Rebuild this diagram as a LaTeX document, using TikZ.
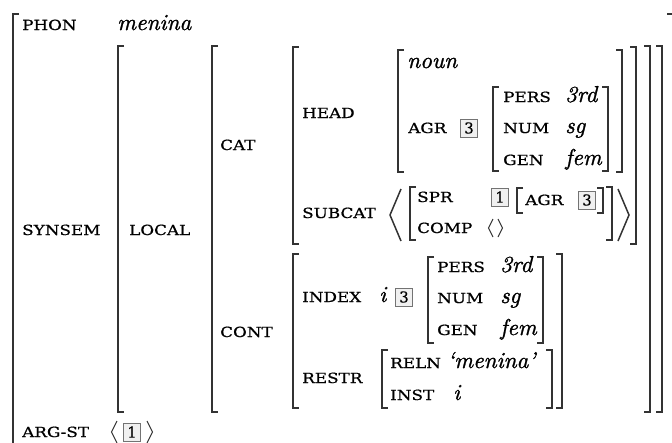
\documentclass[tikz,border=0pt]{standalone}
\usepackage{fontspec}
\newfontfamily\labfont[FakeStretch=1.2,FakeBold=0.7]{DejaVu Serif}
\newfontfamily\serfont[FakeBold=0.5]{DejaVu Serif}
\newfontfamily\lmit[FakeBold=1.2]{lmroman10-italic.otf}
\tikzset{
  br/.style={line width=1.5pt, draw=black!80, line cap=butt, line join=miter},
  abr/.style={line width=1.1pt, draw=black!80},
  lab/.style={anchor=base west, inner sep=0pt, font={\labfont\fontsize{14pt}{16pt}\selectfont}, text=black},
  val/.style={anchor=base west, inner sep=0pt, font={\lmit\fontsize{23pt}{24pt}\selectfont}, text=black},
  tagbox/.style={draw=black!55, line width=0.8pt, fill=black!6, inner sep=0pt, minimum width=17pt, minimum height=18pt, font={\serfont\fontsize{15pt}{16pt}\selectfont}, text=black},
}
\newcommand{\avmbr}[4]{%
  \draw[br] (#1+6,#2) -- (#1,#2) -- (#1,#4) -- (#1+6,#4);
  \draw[br] (#3-6,#2) -- (#3,#2) -- (#3,#4) -- (#3-6,#4);}
\begin{document}
\begin{tikzpicture}[x=1pt,y=-1pt]
\useasboundingbox (0,0) rectangle (672,442);
% brackets
\avmbr{13}{14}{673}{460}
\avmbr{118}{46}{662}{412}
\avmbr{212}{46}{650}{412}
\avmbr{293}{47}{636}{244}
\avmbr{398}{50}{622}{172}
\avmbr{493}{87}{608}{171}
\avmbr{410}{187}{612}{240}
\avmbr{517}{188}{603}{213}
\avmbr{293}{254}{562}{408}
\avmbr{428}{257}{543}{343}
\avmbr{382}{350}{552}{408}
% angle brackets
\draw[br] (401,189) -- (390,215) -- (401,241);
\draw[br] (618,189) -- (629,215) -- (618,241);
\draw[abr] (493,219) -- (488.5,228) -- (493,237);
\draw[abr] (498,219) -- (502.5,228) -- (498,237);
\draw[abr] (117,421) -- (111.5,432) -- (117,443);
\draw[abr] (147,421) -- (152.5,432) -- (147,443);
% top level
\node[lab] (phon) at (22,30) {PHON};
\node[val] (menina) at (117,30) {menina};
\node[lab] (synsem) at (22,235) {SYNSEM};
\node[lab] (argst) at (22,437) {ARG-ST};
\node[tagbox] (t1b) at (132,432) {1};
% local
\node[lab] (local) at (129,235) {LOCAL};
\node[lab] (cat) at (220,150) {CAT};
\node[lab] (cont) at (220,337) {CONT};
% head
\node[lab] (head) at (302,118) {HEAD};
\node[val] (noun) at (407,68) {noun};
\node[lab] (agr) at (408,133) {AGR};
\node[tagbox] (t3a) at (469,128) {3};
\node[lab] (pers1) at (503,102) {PERS};
\node[val] (rd1) at (565,102) {3rd};
\node[lab] (num1) at (503,133) {NUM};
\node[val] (sg1) at (565,133) {sg};
\node[lab] (gen1) at (503,165) {GEN};
\node[val] (fem1) at (565,165) {fem};
% subcat
\node[lab] (subcat) at (302,218) {SUBCAT};
\node[lab] (spr) at (417,202) {SPR};
\node[tagbox] (t1a) at (500,197) {1};
\node[lab] (agr2) at (525,205) {AGR};
\node[tagbox] (t3b) at (587,200) {3};
\node[lab] (comp) at (417,233) {COMP};
% content
\node[lab] (index) at (302,302) {INDEX};
\node[val] (i1) at (379,302) {i};
\node[tagbox] (t3c) at (404,297) {3};
\node[lab] (pers2) at (437,272) {PERS};
\node[val] (rd2) at (500,272) {3rd};
\node[lab] (num2) at (437,303) {NUM};
\node[val] (sg2) at (500,303) {sg};
\node[lab] (gen2) at (437,335) {GEN};
\node[val] (fem2) at (500,335) {fem};
\node[lab] (restr) at (302,383) {RESTR};
\node[lab] (reln) at (390,368) {RELN};
\node[val] (menq) at (447,368) {‘menina’};
\node[lab] (inst) at (390,400) {INST};
\node[val] (i2) at (453,400) {i};
\end{tikzpicture}
\end{document}
